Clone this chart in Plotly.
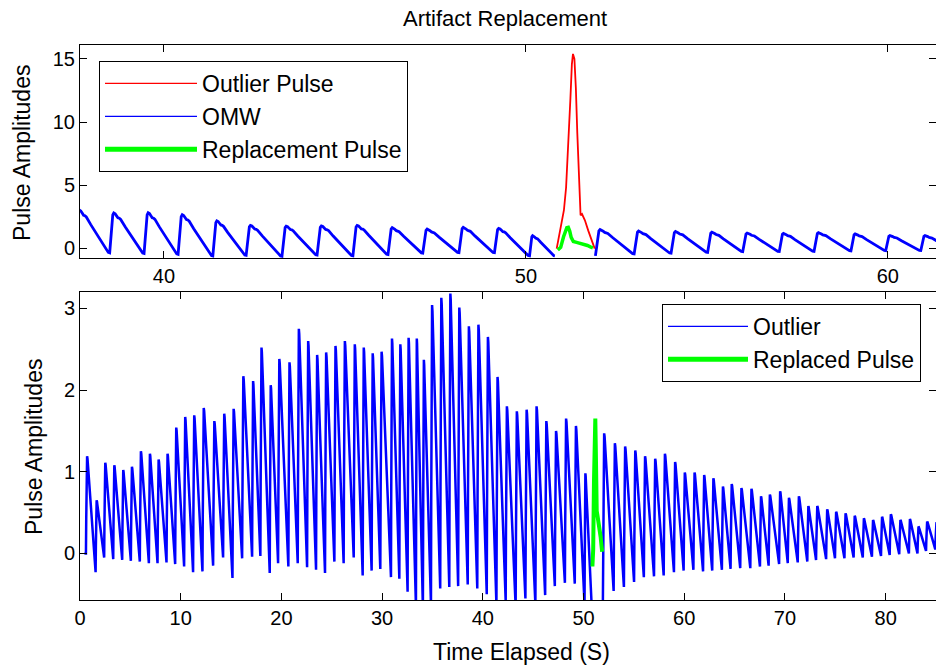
import plotly.graph_objects as go

# ---------------- data ----------------
# Oscillometric waveform: one entry per pulse
# onset time (s), value at onset (trough), peak amplitude.  peak None = gap / end of signal
signal_start_t = 0.44
signal_start_v = 0.0
pulse_onset = [0.59, 1.55, 2.40, 3.30, 4.19, 5.05, 5.94, 6.84, 7.70, 8.59,
               9.45, 10.34, 11.23, 12.16, 13.22, 14.21, 15.14, 16.10, 17.09, 17.91,
               18.84, 19.67, 20.69, 21.62, 22.55, 23.44, 24.33, 25.26, 26.18, 27.18,
               28.07, 28.96, 29.82, 30.88, 31.71, 32.53, 33.36, 34.05, 34.85, 35.77,
               36.67, 37.55, 38.50, 39.45, 40.39, 41.35, 42.27, 43.26, 44.23, 45.22,
               46.19, 47.15, 48.15, 49.13, 50.10, 50.80, 51.92, 52.99, 54.01, 55.02,
               55.99, 57.00, 57.96, 58.98, 59.94, 60.91, 61.87, 62.78, 63.74, 64.60,
               65.56, 66.56, 67.52, 68.38, 69.42, 70.28, 71.27, 72.22, 73.09, 74.09,
               74.97, 75.91, 76.82, 77.73, 78.64, 79.54, 80.40, 81.35, 82.31, 83.16,
               84.01, 84.93, 85.90]
pulse_trough = [0.00, -0.23, -0.05, -0.07, -0.08, -0.09, -0.10, -0.12, -0.12, -0.11,
                -0.13, -0.16, -0.23, -0.22, -0.15, -0.05, -0.30, -0.06, -0.04, -0.03,
                -0.24, -0.12, -0.16, -0.12, -0.17, -0.20, -0.24, -0.10, -0.12, -0.05,
                -0.27, -0.21, -0.19, -0.29, -0.31, -0.47, -0.65, -0.68, -0.62, -0.43,
                -0.41, -0.40, -0.38, -0.43, -0.50, -0.62, -0.58, -0.65, -0.55, -0.62,
                -0.51, -0.40, -0.36, -0.37, -0.62, -0.62, -0.62, -0.46, -0.41, -0.35,
                -0.29, -0.28, -0.27, -0.23, -0.21, -0.20, -0.22, -0.21, -0.20, -0.19,
                -0.18, -0.18, -0.16, -0.15, -0.13, -0.12, -0.11, -0.10, -0.08, -0.07,
                -0.06, -0.06, -0.05, -0.05, -0.04, -0.03, -0.02, -0.01, 0.00, 0.00,
                0.03, 0.05, 0.05]
pulse_peak = [1.19, 0.65, 1.11, 1.08, 1.02, 1.06, 1.25, 1.22, 1.15, 1.22,
              1.54, 1.67, 1.69, 1.78, 1.62, 1.71, 1.77, 2.17, 2.11, 2.52,
              2.06, 2.38, 2.34, 2.75, 2.60, 2.43, 2.46, 2.54, 2.60, 2.56,
              2.52, 2.45, 2.47, 2.63, 2.56, 2.64, 2.63, 2.37, 3.04, 3.13,
              3.18, 3.01, 2.78, 2.80, 2.65, 2.16, 1.80, 1.74, 1.76, 1.80,
              1.62, 1.50, 1.65, 1.56, 0.98, None, 1.47, 1.35, 1.31, 1.26,
              1.19, 1.16, 1.22, 1.12, 0.99, 0.99, 0.96, 0.92, 0.82, 0.85,
              0.80, 0.79, 0.70, 0.72, 0.76, 0.68, 0.70, 0.58, 0.58, 0.54,
              0.51, 0.49, 0.46, 0.43, 0.41, 0.45, 0.48, 0.41, 0.42, 0.33,
              0.39, 0.38, None]

# pulse morphology
# rise: (fraction of beat, fraction trough->peak); decay: (fraction of beat, fraction next trough->peak)
rise_shape = [(0.0, 0.0), (0.03, 0.35), (0.06, 0.75), (0.09, 0.95), (0.12, 1.0)]
decay_shape = [(0.16, 0.98), (0.20, 0.93), (0.24, 0.88), (0.28, 0.87), (0.32, 0.84),
               (0.45, 0.66), (0.60, 0.46), (0.75, 0.27), (0.90, 0.08), (0.96, 0.01)]

# outlier pulse (red) and its replacement (green)
outlier_t = [50.85, 50.99, 51.05, 51.11, 51.17, 51.23, 51.27, 51.30, 51.34, 51.38, 51.42,
             51.47, 51.51, 51.55, 51.58, 51.63, 51.72, 51.81, 51.90]
outlier_v = [-0.05, 1.9, 3.0, 4.8, 8.0, 11.9, 14.6, 15.4, 15.0, 12.7, 9.1,
             5.1, 2.6, 2.7, 2.5, 2.2, 1.4, 0.6, -0.05]
replace_t = [50.88, 50.96, 51.04, 51.09, 51.13, 51.17, 51.21, 51.25, 51.31, 51.40,
             51.50, 51.60, 51.70, 51.78, 51.85]
replace_v = [-0.16, 0.05, 0.9, 1.45, 1.62, 1.65, 1.35, 0.85, 0.52, 0.45,
             0.38, 0.28, 0.20, 0.10, 0.02]

top_xticks = [40, 50, 60]
top_yticks = [0, 5, 10, 15]
bot_xticks = [0, 10, 20, 30, 40, 50, 60, 70, 80]
bot_yticks = [0, 1, 2, 3]

# ---------------- build waveform from pulse table ----------------
wx = [signal_start_t]
wy = [signal_start_v]
for i in range(len(pulse_onset)):
    t0, v0, pk = pulse_onset[i], pulse_trough[i], pulse_peak[i]
    if pk is None:
        wx += [t0, None]
        wy += [v0, None]
        continue
    T = pulse_onset[i + 1] - t0
    vn = pulse_trough[i + 1]
    for f, a in rise_shape:
        wx.append(t0 + f * T)
        wy.append(v0 + a * (pk - v0))
    for f, a in decay_shape:
        wx.append(t0 + f * T)
        wy.append(vn + a * (pk - vn))

FONT = "Liberation Sans, Arial, Helvetica, sans-serif"
W, H = 936, 666
BLUE = "#0000FF"
RED = "#FF0000"
GREEN = "#00FF00"

fig = go.Figure()
# top panel
fig.add_trace(go.Scatter(x=wx, y=wy, mode="lines", line=dict(color=BLUE, width=2.8),
                         xaxis="x", yaxis="y", showlegend=False, hoverinfo="skip"))
fig.add_trace(go.Scatter(x=outlier_t, y=outlier_v, mode="lines", line=dict(color=RED, width=1.8),
                         xaxis="x", yaxis="y", showlegend=False))
fig.add_trace(go.Scatter(x=replace_t, y=replace_v, mode="lines", line=dict(color=GREEN, width=3.5),
                         xaxis="x", yaxis="y", showlegend=False))
# bottom panel
fig.add_trace(go.Scatter(x=wx, y=wy, mode="lines", line=dict(color=BLUE, width=2.5),
                         xaxis="x2", yaxis="y2", showlegend=False, hoverinfo="skip"))
fig.add_trace(go.Scatter(x=replace_t, y=replace_v, mode="lines", line=dict(color=GREEN, width=4),
                         xaxis="x2", yaxis="y2", showlegend=False))

# legend entries
for name, col, w in [("Outlier Pulse", RED, 1.2), ("OMW", BLUE, 1.2), ("Replacement Pulse", GREEN, 5)]:
    fig.add_trace(go.Scatter(x=[None], y=[None], mode="lines", name=name, line=dict(color=col, width=w),
                             xaxis="x", yaxis="y", legend="legend", legendgroup=name))
for name, col, w in [("Outlier", BLUE, 1.2), ("Replaced Pulse", GREEN, 5)]:
    fig.add_trace(go.Scatter(x=[None], y=[None], mode="lines", name=name, line=dict(color=col, width=w),
                             xaxis="x2", yaxis="y2", legend="legend2", legendgroup=name))

axis_common = dict(showline=True, linecolor="black", linewidth=1, mirror="ticks",
                   ticks="inside", ticklen=7, tickcolor="black", showgrid=False, zeroline=False,
                   tickfont=dict(family=FONT, size=20, color="black"), automargin=False)

left = 80 / W
fig.update_layout(
    width=W, height=H, margin=dict(l=0, r=0, t=0, b=0),
    paper_bgcolor="white", plot_bgcolor="white",
    font=dict(family=FONT, color="black"),
    xaxis=dict(domain=[left, 1.0], range=[37.68, 61.33], tickvals=top_xticks, anchor="y", **axis_common),
    yaxis=dict(domain=[(H - 258) / H, (H - 45) / H], range=[-0.79, 16.11], tickvals=top_yticks,
               anchor="x", **axis_common),
    xaxis2=dict(domain=[left, 1.0], range=[0, 85], tickvals=bot_xticks, anchor="y2", **axis_common),
    yaxis2=dict(domain=[(H - 600) / H, (H - 292) / H], range=[-0.57, 3.2], tickvals=bot_yticks,
                anchor="x2", **axis_common),
    legend=dict(x=99 / W, y=1 - 61 / H, xanchor="left", yanchor="top", bgcolor="white",
                bordercolor="black", borderwidth=1, font=dict(family=FONT, size=23, color="black"),
                itemwidth=92, tracegroupgap=0),
    legend2=dict(x=662 / W, y=1 - 304 / H, xanchor="left", yanchor="top", bgcolor="white",
                 bordercolor="black", borderwidth=1, font=dict(family=FONT, size=23, color="black"),
                 itemwidth=80, tracegroupgap=0),
    annotations=[
        dict(text="Artifact Replacement", x=505 / W, y=1 - 19 / H, xref="paper", yref="paper",
             showarrow=False, font=dict(family=FONT, size=22, color="black"), xanchor="center", yanchor="middle"),
        dict(text="Pulse Amplitudes", x=22 / W, y=1 - 153 / H, xref="paper", yref="paper", textangle=-90,
             showarrow=False, font=dict(family=FONT, size=23, color="black"), xanchor="center", yanchor="middle"),
        dict(text="Pulse Amplitudes", x=34 / W, y=1 - 447 / H, xref="paper", yref="paper", textangle=-90,
             showarrow=False, font=dict(family=FONT, size=23, color="black"), xanchor="center", yanchor="middle"),
        dict(text="Time Elapsed (S)", x=521 / W, y=1 - 652 / H, xref="paper", yref="paper",
             showarrow=False, font=dict(family=FONT, size=23, color="black"), xanchor="center", yanchor="middle"),
    ],
)

fig.write_html("out.html")
